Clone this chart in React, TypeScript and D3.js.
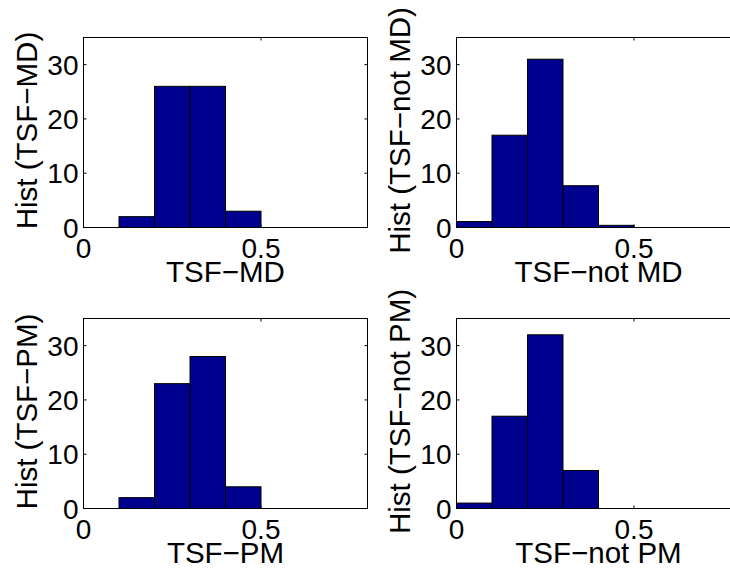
import React from "react";
import * as d3 from "d3";

// Histogram bin lower edges (bin width 0.1)
const binEdges = [0, 0.1, 0.2, 0.3, 0.4, 0.5, 0.6, 0.7];
const binWidth = 0.1;

// Counts per bin for each panel
const countsMD = [0, 2, 26, 26, 3, 0, 0, 0];
const countsNotMD = [1.1, 17, 31, 7.7, 0.4, 0, 0, 0];
const countsPM = [0, 2, 23, 28, 4, 0, 0, 0];
const countsNotPM = [1, 17, 32, 7, 0, 0, 0, 0];

const xTicks = [0, 0.5];
const xTickLabels = ["0", "0.5"];
const yTicks = [0, 10, 20, 30];
const yTickLabels = ["0", "10", "20", "30"];

const xLabels = ["TSF\u2212MD", "TSF\u2212not MD", "TSF\u2212PM", "TSF\u2212not PM"];
const yLabels = [
  "Hist (TSF\u2212MD)",
  "Hist (TSF\u2212not MD)",
  "Hist (TSF\u2212PM)",
  "Hist (TSF\u2212not PM)",
];

const panelCounts = [countsMD, countsNotMD, countsPM, countsNotPM];

const FONT = "'Liberation Sans', Arial, Helvetica, sans-serif";
const BAR_COLOR = "#00008F";

const W = 730;
const H = 570;

const panelLayout = [
  { x: 83.5, y: 37.5 },
  { x: 456.5, y: 37.5 },
  { x: 83.5, y: 318.5 },
  { x: 456.5, y: 318.5 },
];
const PW = 284;
const PH = 190;
const TICK_FS = 28;
const LABEL_FS = 29.5;

function Panel({ idx }: { idx: number }) {
  const { x: ox, y: oy } = panelLayout[idx];
  const counts = panelCounts[idx];
  const x = d3.scaleLinear().domain([0, 0.8]).range([ox, ox + PW]);
  const y = d3.scaleLinear().domain([0, 35]).range([oy + PH, oy]);
  const tickLen = 3;
  const cx = (ox + ox + PW) / 2;
  const cy = (oy + oy + PH) / 2 - 2;
  return (
    <g>
      <rect x={ox} y={oy} width={PW} height={PH} fill="white" stroke="black" strokeWidth={1} />
      {counts.map((c, i) => (
        <rect
          key={i}
          x={x(binEdges[i])}
          y={y(c)}
          width={x(binEdges[i] + binWidth) - x(binEdges[i])}
          height={y(0) - y(c)}
          fill={BAR_COLOR}
          stroke="black"
          strokeWidth={1}
        />
      ))}
      {xTicks.map((t, i) => (
        <g key={"xt" + i}>
          <line x1={x(t)} x2={x(t)} y1={y(0)} y2={y(0) - tickLen} stroke="black" />
          <line x1={x(t)} x2={x(t)} y1={oy} y2={oy + tickLen} stroke="black" />
          <text
            x={x(t)}
            y={y(0) + 30}
            textAnchor="middle"
            fontFamily={FONT}
            fontSize={TICK_FS}
            fill="black"
          >
            {xTickLabels[i]}
          </text>
        </g>
      ))}
      {yTicks.map((t, i) => (
        <g key={"yt" + i}>
          <line x1={ox} x2={ox + tickLen} y1={y(t)} y2={y(t)} stroke="black" />
          <line x1={ox + PW} x2={ox + PW - tickLen} y1={y(t)} y2={y(t)} stroke="black" />
          <text
            x={ox - 5}
            y={y(t) + 10}
            textAnchor="end"
            fontFamily={FONT}
            fontSize={TICK_FS}
            fill="black"
          >
            {yTickLabels[i]}
          </text>
        </g>
      ))}
      <text x={cx} y={y(0) + 54.5} textAnchor="middle" fontFamily={FONT} fontSize={LABEL_FS} fill="black">
        {xLabels[idx]}
      </text>
      <text
        transform={`translate(${ox - 46.5},${cy}) rotate(-90)`}
        textAnchor="middle"
        fontFamily={FONT}
        fontSize={LABEL_FS}
        fill="black"
      >
        {yLabels[idx]}
      </text>
    </g>
  );
}

export default function App() {
  return (
    <svg
      width={W}
      height={H}
      viewBox={`0 0 ${W} ${H}`}
      style={{ position: "absolute", left: 0, top: 0, background: "white", overflow: "hidden" }}
    >
      <rect x={0} y={0} width={W} height={H} fill="white" />
      {[0, 1, 2, 3].map((i) => (
        <Panel key={i} idx={i} />
      ))}
    </svg>
  );
}
